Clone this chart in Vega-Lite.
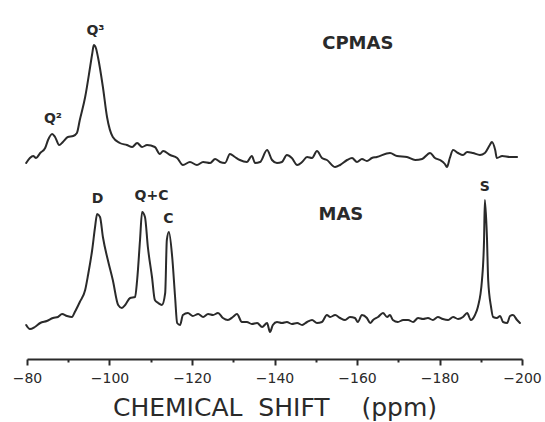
{
  "$schema": "https://vega.github.io/schema/vega-lite/v6.json",
  "width": 495,
  "height": 349,
  "autosize": {"type": "none"},
  "padding": {"left": 27, "top": 10, "right": 23, "bottom": 63},
  "background": "white",
  "config": {"view": {"stroke": null}},
  "datasets": {
    "spectra": [
      {"s":"CPMAS","ppm":-79.8,"i":196},{"s":"CPMAS","ppm":-80.7,"i":201},{"s":"CPMAS","ppm":-81.5,"i":203},{"s":"CPMAS","ppm":-82.2,"i":201},
      {"s":"CPMAS","ppm":-83.2,"i":206},{"s":"CPMAS","ppm":-84.4,"i":211},{"s":"CPMAS","ppm":-85.1,"i":219},{"s":"CPMAS","ppm":-86.1,"i":225},
      {"s":"CPMAS","ppm":-86.8,"i":222},{"s":"CPMAS","ppm":-87.8,"i":214},{"s":"CPMAS","ppm":-88.7,"i":217},{"s":"CPMAS","ppm":-89.9,"i":222},
      {"s":"CPMAS","ppm":-91.2,"i":223},{"s":"CPMAS","ppm":-92.1,"i":226},{"s":"CPMAS","ppm":-92.8,"i":239},{"s":"CPMAS","ppm":-94.1,"i":262},
      {"s":"CPMAS","ppm":-95.3,"i":292},{"s":"CPMAS","ppm":-95.8,"i":305},{"s":"CPMAS","ppm":-96.2,"i":314},{"s":"CPMAS","ppm":-96.7,"i":311},
      {"s":"CPMAS","ppm":-97.2,"i":302},{"s":"CPMAS","ppm":-98.4,"i":272},{"s":"CPMAS","ppm":-99.4,"i":242},{"s":"CPMAS","ppm":-100.8,"i":222},
      {"s":"CPMAS","ppm":-102.5,"i":216},{"s":"CPMAS","ppm":-104.2,"i":214},{"s":"CPMAS","ppm":-105.5,"i":212},{"s":"CPMAS","ppm":-106.7,"i":216},
      {"s":"CPMAS","ppm":-107.9,"i":212},{"s":"CPMAS","ppm":-109.1,"i":214},{"s":"CPMAS","ppm":-111.0,"i":212},{"s":"CPMAS","ppm":-112.2,"i":205},
      {"s":"CPMAS","ppm":-113.0,"i":208},{"s":"CPMAS","ppm":-114.7,"i":204},{"s":"CPMAS","ppm":-116.4,"i":201},{"s":"CPMAS","ppm":-117.8,"i":194},
      {"s":"CPMAS","ppm":-119.5,"i":197},{"s":"CPMAS","ppm":-121.2,"i":194},{"s":"CPMAS","ppm":-122.7,"i":197},{"s":"CPMAS","ppm":-124.4,"i":196},
      {"s":"CPMAS","ppm":-125.6,"i":200},{"s":"CPMAS","ppm":-126.8,"i":197},{"s":"CPMAS","ppm":-128.0,"i":196},{"s":"CPMAS","ppm":-129.2,"i":205},
      {"s":"CPMAS","ppm":-130.4,"i":202},{"s":"CPMAS","ppm":-131.6,"i":199},{"s":"CPMAS","ppm":-133.3,"i":197},{"s":"CPMAS","ppm":-134.5,"i":203},
      {"s":"CPMAS","ppm":-135.3,"i":196},{"s":"CPMAS","ppm":-136.5,"i":197},{"s":"CPMAS","ppm":-138.2,"i":209},{"s":"CPMAS","ppm":-139.4,"i":199},
      {"s":"CPMAS","ppm":-140.6,"i":196},{"s":"CPMAS","ppm":-141.8,"i":197},{"s":"CPMAS","ppm":-143.0,"i":204},{"s":"CPMAS","ppm":-144.2,"i":201},
      {"s":"CPMAS","ppm":-145.5,"i":194},{"s":"CPMAS","ppm":-146.7,"i":197},{"s":"CPMAS","ppm":-147.9,"i":202},{"s":"CPMAS","ppm":-149.1,"i":201},
      {"s":"CPMAS","ppm":-150.3,"i":208},{"s":"CPMAS","ppm":-151.5,"i":201},{"s":"CPMAS","ppm":-152.7,"i":199},{"s":"CPMAS","ppm":-154.7,"i":192},
      {"s":"CPMAS","ppm":-155.9,"i":194},{"s":"CPMAS","ppm":-157.6,"i":199},{"s":"CPMAS","ppm":-158.8,"i":201},{"s":"CPMAS","ppm":-160.0,"i":197},
      {"s":"CPMAS","ppm":-161.2,"i":200},{"s":"CPMAS","ppm":-162.4,"i":198},{"s":"CPMAS","ppm":-163.6,"i":201},{"s":"CPMAS","ppm":-164.8,"i":202},
      {"s":"CPMAS","ppm":-168.0,"i":206},{"s":"CPMAS","ppm":-169.7,"i":203},{"s":"CPMAS","ppm":-172.1,"i":202},{"s":"CPMAS","ppm":-174.1,"i":199},
      {"s":"CPMAS","ppm":-175.8,"i":200},{"s":"CPMAS","ppm":-177.7,"i":206},{"s":"CPMAS","ppm":-178.9,"i":201},{"s":"CPMAS","ppm":-180.1,"i":199},
      {"s":"CPMAS","ppm":-181.3,"i":195},{"s":"CPMAS","ppm":-181.8,"i":192},{"s":"CPMAS","ppm":-182.5,"i":201},{"s":"CPMAS","ppm":-183.3,"i":209},
      {"s":"CPMAS","ppm":-184.5,"i":206},{"s":"CPMAS","ppm":-185.7,"i":204},{"s":"CPMAS","ppm":-186.7,"i":207},{"s":"CPMAS","ppm":-188.1,"i":206},
      {"s":"CPMAS","ppm":-189.8,"i":204},{"s":"CPMAS","ppm":-191.0,"i":206},{"s":"CPMAS","ppm":-192.2,"i":214},{"s":"CPMAS","ppm":-192.7,"i":217},
      {"s":"CPMAS","ppm":-193.5,"i":209},{"s":"CPMAS","ppm":-193.9,"i":201},{"s":"CPMAS","ppm":-195.2,"i":203},{"s":"CPMAS","ppm":-197.1,"i":202},
      {"s":"CPMAS","ppm":-198.8,"i":202},
      {"s":"MAS","ppm":-79.8,"i":34},{"s":"MAS","ppm":-80.7,"i":30},{"s":"MAS","ppm":-81.9,"i":32},{"s":"MAS","ppm":-83.2,"i":36},
      {"s":"MAS","ppm":-84.8,"i":38},{"s":"MAS","ppm":-86.3,"i":41},{"s":"MAS","ppm":-87.5,"i":42},{"s":"MAS","ppm":-88.5,"i":45},
      {"s":"MAS","ppm":-89.7,"i":43},{"s":"MAS","ppm":-90.9,"i":42},{"s":"MAS","ppm":-91.6,"i":47},{"s":"MAS","ppm":-92.8,"i":57},
      {"s":"MAS","ppm":-94.1,"i":69},{"s":"MAS","ppm":-94.8,"i":84},{"s":"MAS","ppm":-95.8,"i":109},{"s":"MAS","ppm":-96.5,"i":132},
      {"s":"MAS","ppm":-97.0,"i":145},{"s":"MAS","ppm":-97.7,"i":142},{"s":"MAS","ppm":-98.4,"i":122},{"s":"MAS","ppm":-99.6,"i":99},
      {"s":"MAS","ppm":-100.8,"i":79},{"s":"MAS","ppm":-102.1,"i":54},{"s":"MAS","ppm":-103.0,"i":51},{"s":"MAS","ppm":-103.8,"i":54},
      {"s":"MAS","ppm":-105.0,"i":61},{"s":"MAS","ppm":-106.2,"i":62},{"s":"MAS","ppm":-106.7,"i":79},{"s":"MAS","ppm":-107.4,"i":119},
      {"s":"MAS","ppm":-107.9,"i":147},{"s":"MAS","ppm":-108.6,"i":142},{"s":"MAS","ppm":-109.3,"i":112},{"s":"MAS","ppm":-110.3,"i":82},
      {"s":"MAS","ppm":-111.0,"i":59},{"s":"MAS","ppm":-111.8,"i":56},{"s":"MAS","ppm":-112.7,"i":54},{"s":"MAS","ppm":-113.5,"i":66},
      {"s":"MAS","ppm":-113.9,"i":119},{"s":"MAS","ppm":-114.4,"i":127},{"s":"MAS","ppm":-115.2,"i":102},{"s":"MAS","ppm":-115.9,"i":62},
      {"s":"MAS","ppm":-116.4,"i":36},{"s":"MAS","ppm":-117.1,"i":34},{"s":"MAS","ppm":-117.8,"i":44},{"s":"MAS","ppm":-119.0,"i":46},
      {"s":"MAS","ppm":-120.2,"i":43},{"s":"MAS","ppm":-121.5,"i":45},{"s":"MAS","ppm":-122.7,"i":42},{"s":"MAS","ppm":-123.9,"i":45},
      {"s":"MAS","ppm":-125.1,"i":44},{"s":"MAS","ppm":-126.3,"i":46},{"s":"MAS","ppm":-127.5,"i":41},{"s":"MAS","ppm":-128.7,"i":39},
      {"s":"MAS","ppm":-129.9,"i":42},{"s":"MAS","ppm":-130.9,"i":45},{"s":"MAS","ppm":-132.1,"i":37},{"s":"MAS","ppm":-133.3,"i":37},
      {"s":"MAS","ppm":-134.5,"i":35},{"s":"MAS","ppm":-135.8,"i":36},{"s":"MAS","ppm":-137.0,"i":32},{"s":"MAS","ppm":-138.2,"i":36},
      {"s":"MAS","ppm":-138.9,"i":27},{"s":"MAS","ppm":-139.6,"i":34},{"s":"MAS","ppm":-140.6,"i":37},{"s":"MAS","ppm":-141.8,"i":36},
      {"s":"MAS","ppm":-143.0,"i":37},{"s":"MAS","ppm":-144.2,"i":35},{"s":"MAS","ppm":-145.5,"i":36},{"s":"MAS","ppm":-146.7,"i":34},
      {"s":"MAS","ppm":-147.9,"i":37},{"s":"MAS","ppm":-149.1,"i":39},{"s":"MAS","ppm":-150.3,"i":36},{"s":"MAS","ppm":-151.5,"i":37},
      {"s":"MAS","ppm":-152.7,"i":44},{"s":"MAS","ppm":-153.5,"i":42},{"s":"MAS","ppm":-154.7,"i":44},{"s":"MAS","ppm":-155.9,"i":41},
      {"s":"MAS","ppm":-157.1,"i":39},{"s":"MAS","ppm":-158.3,"i":42},{"s":"MAS","ppm":-159.5,"i":41},{"s":"MAS","ppm":-160.2,"i":37},
      {"s":"MAS","ppm":-161.2,"i":44},{"s":"MAS","ppm":-162.4,"i":41},{"s":"MAS","ppm":-163.2,"i":36},{"s":"MAS","ppm":-163.9,"i":39},
      {"s":"MAS","ppm":-165.1,"i":42},{"s":"MAS","ppm":-166.3,"i":46},{"s":"MAS","ppm":-167.3,"i":42},{"s":"MAS","ppm":-168.0,"i":44},
      {"s":"MAS","ppm":-168.7,"i":39},{"s":"MAS","ppm":-169.9,"i":37},{"s":"MAS","ppm":-171.2,"i":39},{"s":"MAS","ppm":-172.4,"i":39},
      {"s":"MAS","ppm":-173.6,"i":37},{"s":"MAS","ppm":-174.8,"i":41},{"s":"MAS","ppm":-176.0,"i":40},{"s":"MAS","ppm":-177.2,"i":41},
      {"s":"MAS","ppm":-178.4,"i":39},{"s":"MAS","ppm":-179.6,"i":42},{"s":"MAS","ppm":-180.8,"i":40},{"s":"MAS","ppm":-182.1,"i":39},
      {"s":"MAS","ppm":-183.3,"i":42},{"s":"MAS","ppm":-184.5,"i":40},{"s":"MAS","ppm":-185.7,"i":42},{"s":"MAS","ppm":-186.7,"i":46},
      {"s":"MAS","ppm":-187.6,"i":39},{"s":"MAS","ppm":-188.6,"i":44},{"s":"MAS","ppm":-189.3,"i":52},{"s":"MAS","ppm":-190.3,"i":79},
      {"s":"MAS","ppm":-190.8,"i":119},{"s":"MAS","ppm":-191.0,"i":159},{"s":"MAS","ppm":-191.5,"i":122},{"s":"MAS","ppm":-191.8,"i":79},
      {"s":"MAS","ppm":-192.5,"i":52},{"s":"MAS","ppm":-193.0,"i":42},{"s":"MAS","ppm":-193.9,"i":41},{"s":"MAS","ppm":-194.7,"i":43},
      {"s":"MAS","ppm":-195.4,"i":37},{"s":"MAS","ppm":-196.4,"i":36},{"s":"MAS","ppm":-197.1,"i":43},{"s":"MAS","ppm":-197.8,"i":44},
      {"s":"MAS","ppm":-198.8,"i":39},{"s":"MAS","ppm":-199.5,"i":36}
    ],
    "peaks": [
      {"label":"Q³","ppm":-96.6,"i":328,"kind":"peak"},
      {"label":"Q²","ppm":-86.3,"i":240,"kind":"peak"},
      {"label":"D","ppm":-97.1,"i":160,"kind":"peak"},
      {"label":"Q+C","ppm":-110.2,"i":163,"kind":"peak"},
      {"label":"C","ppm":-114.3,"i":140,"kind":"peak"},
      {"label":"S","ppm":-191.0,"i":172,"kind":"peak"}
    ],
    "names": [
      {"label":"CPMAS","ppm":-160.2,"i":315},
      {"label":"MAS","ppm":-156.1,"i":144}
    ]
  },
  "layer": [
    {
      "data": {"name": "spectra"},
      "mark": {"type": "line", "color": "#2a2a2a", "strokeWidth": 2, "interpolate": "monotone", "strokeJoin": "round", "strokeCap": "round"},
      "encoding": {
        "x": {
          "field": "ppm", "type": "quantitative",
          "scale": {"domain": [-80, -200], "nice": false, "zero": false},
          "axis": {
            "title": "CHEMICAL\u00a0\u00a0SHIFT\u00a0\u00a0\u00a0\u00a0(ppm)",
            "titleFont": "DejaVu Sans", "titleFontSize": 25, "titleFontWeight": "normal", "titleColor": "#2a2a2a",
            "titlePadding": 10,
            "values": [-80,-85,-90,-95,-100,-105,-110,-115,-120,-125,-130,-135,-140,-145,-150,-155,-160,-165,-170,-175,-180,-185,-190,-195,-200],
            "labelExpr": "datum.value % 20 === 0 ? datum.label : ''",
            "labelFont": "DejaVu Sans", "labelFontSize": 14, "labelColor": "#2a2a2a",
            "labelOverlap": false, "labelFlush": false, "labelPadding": 6,
            "tickSize": {"condition": {"test": "datum.value % 20 === 0", "value": 6}, "value": 3},
            "tickColor": "#2a2a2a", "tickWidth": 2,
            "domainColor": "#2a2a2a", "domainWidth": 2,
            "grid": false
          }
        },
        "y": {"field": "i", "type": "quantitative", "scale": {"domain": [0, 349], "nice": false, "zero": false}, "axis": null},
        "detail": {"field": "s", "type": "nominal"}
      }
    },
    {
      "data": {"name": "peaks"},
      "mark": {"type": "text", "font": "DejaVu Sans", "fontSize": 14, "fontWeight": "bold", "color": "#2a2a2a", "align": "center", "baseline": "middle"},
      "encoding": {
        "x": {"field": "ppm", "type": "quantitative"},
        "y": {"field": "i", "type": "quantitative"},
        "text": {"field": "label"}
      }
    },
    {
      "data": {"name": "names"},
      "mark": {"type": "text", "font": "DejaVu Sans", "fontSize": 18, "fontWeight": "bold", "color": "#2a2a2a", "align": "center", "baseline": "middle"},
      "encoding": {
        "x": {"field": "ppm", "type": "quantitative"},
        "y": {"field": "i", "type": "quantitative"},
        "text": {"field": "label"}
      }
    }
  ]
}
